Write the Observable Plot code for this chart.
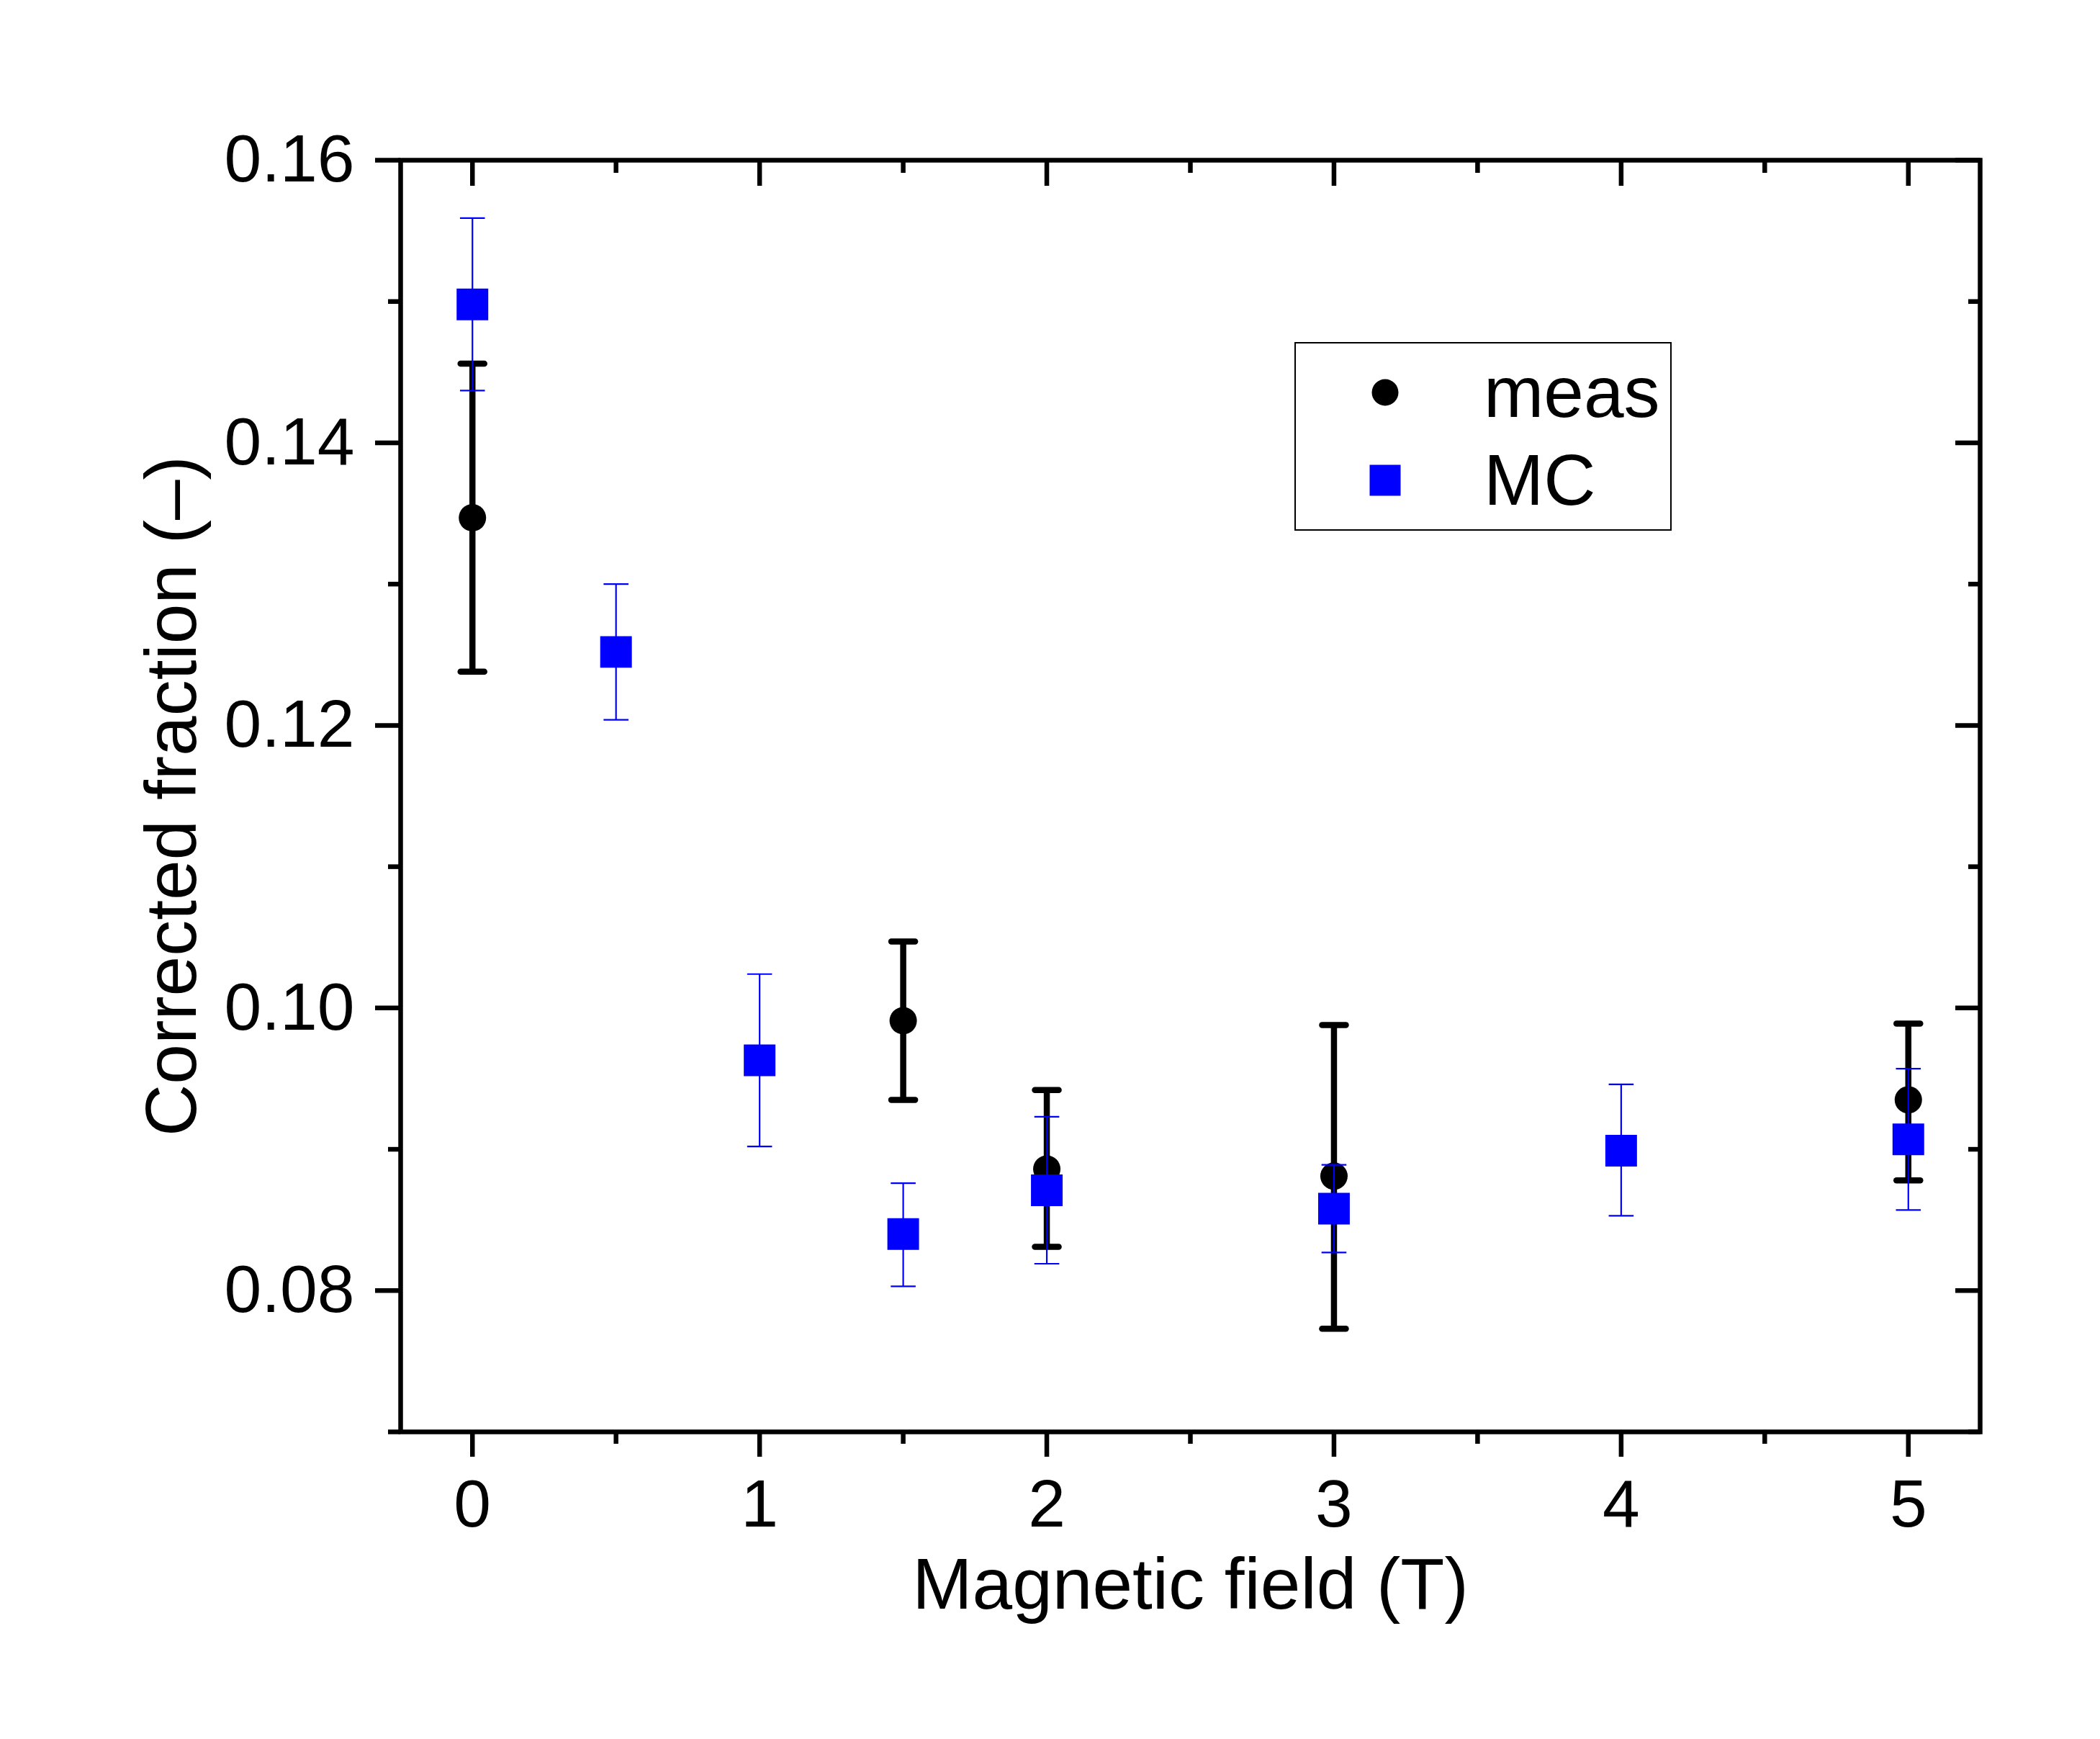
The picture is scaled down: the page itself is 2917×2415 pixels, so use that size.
<!DOCTYPE html>
<html>
<head>
<meta charset="utf-8">
<script src="https://cdn.jsdelivr.net/npm/d3@7"></script>
<script src="https://cdn.jsdelivr.net/npm/@observablehq/plot@0.6"></script>
<style>
  html, body { margin: 0; padding: 0; background: #ffffff; }
  #chart { position: relative; width: 2917px; height: 2415px; }
  #chart svg { display: block; }
  #legend { position: absolute; left: 0; top: 0; pointer-events: none; }
</style>
</head>
<body>
<div id="chart"></div>
<script>
// ---------- data ----------
const measX  = [0, 1.5, 2, 3, 5];
const measY  = [0.1347, 0.0991, 0.0886, 0.0881, 0.0935];
const measLo = [0.1238, 0.0935, 0.0831, 0.0773, 0.0878];
const measHi = [0.1456, 0.1047, 0.0942, 0.0988, 0.0989];

const mcX  = [0, 0.5, 1, 1.5, 2, 3, 4, 5];
const mcY  = [0.1498, 0.1252, 0.0963, 0.0840, 0.0871, 0.0858, 0.0899, 0.0907];
const mcLo = [0.1437, 0.1204, 0.0902, 0.0803, 0.0819, 0.0827, 0.0853, 0.0857];
const mcHi = [0.1559, 0.1300, 0.1024, 0.0876, 0.0923, 0.0889, 0.0946, 0.0957];

const xMajorTicks = [0, 1, 2, 3, 4, 5];
const xMinorTicks = [0.5, 1.5, 2.5, 3.5, 4.5];
const yMajorTicks = [0.08, 0.10, 0.12, 0.14, 0.16];
const yMinorTicks = [0.07, 0.09, 0.11, 0.13, 0.15];

const xTitle = "Magnetic field (T)";
const yTitle = "Corrected fraction (–)";
const legendLabels  = ["meas", "MC"];
const legendSymbols = ["circle", "square"];
const legendColors  = ["#000000", "#0000ff"];

// ---------- tables ----------
const meas = measX.map((x, i) => ({x, y: measY[i], lo: measLo[i], hi: measHi[i]}));
const mc   = mcX.map((x, i) => ({x, y: mcY[i], lo: mcLo[i], hi: mcHi[i]}));

// horizontal cap symbol for error bars (half-length = r)
const capSymbol = {
  draw(context, size) {
    const r = Math.sqrt(size / Math.PI);
    context.moveTo(-r, 0);
    context.lineTo(r, 0);
  }
};

const W = 2917, H = 2415;
const FONT = "'Liberation Sans', Arial, Helvetica, sans-serif";
const TICK_W = 6.5, MAJOR = 35, MINOR = 17;
const noText = () => "";

const plot = Plot.plot({
  width: W,
  height: H,
  marginLeft: 556,
  marginRight: 167,
  marginTop: 222,
  marginBottom: 427,
  x: {domain: [-0.25, 5.25], label: null},
  y: {domain: [0.07, 0.16], label: null},
  style: {fontFamily: FONT, background: "#ffffff", color: "#000000", overflow: "visible"},
  marks: [
    // bottom axis (outward)
    Plot.axisX({anchor: "bottom", ticks: xMajorTicks, tickSize: MAJOR, tickPadding: 30,
      tickFormat: d => String(d), fontSize: 93, strokeWidth: TICK_W, label: null}),
    Plot.axisX({anchor: "bottom", ticks: xMinorTicks, tickSize: MINOR,
      tickFormat: noText, strokeWidth: TICK_W, label: null}),
    // top axis (inward)
    Plot.axisX({anchor: "top", ticks: xMajorTicks, tickSize: MAJOR, dy: MAJOR,
      tickFormat: noText, strokeWidth: TICK_W, label: null}),
    Plot.axisX({anchor: "top", ticks: xMinorTicks, tickSize: MINOR, dy: MINOR,
      tickFormat: noText, strokeWidth: TICK_W, label: null}),
    // left axis (outward)
    Plot.axisY({anchor: "left", ticks: yMajorTicks, tickSize: MAJOR, tickPadding: 29,
      tickFormat: d3.format(".2f"), fontSize: 93, strokeWidth: TICK_W, label: null}),
    Plot.axisY({anchor: "left", ticks: yMinorTicks, tickSize: MINOR,
      tickFormat: noText, strokeWidth: TICK_W, label: null}),
    // right axis (inward)
    Plot.axisY({anchor: "right", ticks: yMajorTicks, tickSize: MAJOR, dx: -MAJOR,
      tickFormat: noText, strokeWidth: TICK_W, label: null}),
    Plot.axisY({anchor: "right", ticks: yMinorTicks, tickSize: MINOR, dx: -MINOR,
      tickFormat: noText, strokeWidth: TICK_W, label: null}),

    // meas series (black)
    Plot.ruleX(meas, {x: "x", y1: "lo", y2: "hi", stroke: "#000000", strokeWidth: 8.5}),
    Plot.dot(meas, {x: "x", y: "hi", symbol: capSymbol, r: 16.5, fill: "none",
      stroke: "#000000", strokeWidth: 8.5, strokeLinecap: "round"}),
    Plot.dot(meas, {x: "x", y: "lo", symbol: capSymbol, r: 16.5, fill: "none",
      stroke: "#000000", strokeWidth: 8.5, strokeLinecap: "round"}),
    Plot.dot(meas, {x: "x", y: "y", symbol: "circle", r: 19, fill: "#000000", stroke: "none"}),

    // MC series (blue)
    Plot.ruleX(mc, {x: "x", y1: "lo", y2: "hi", stroke: "#0000ff", strokeWidth: 2.2}),
    Plot.dot(mc, {x: "x", y: "hi", symbol: capSymbol, r: 17.3, fill: "none",
      stroke: "#0000ff", strokeWidth: 2.2}),
    Plot.dot(mc, {x: "x", y: "lo", symbol: capSymbol, r: 17.3, fill: "none",
      stroke: "#0000ff", strokeWidth: 2.2}),
    Plot.dot(mc, {x: "x", y: "y", symbol: "square", r: 24.8, fill: "#0000ff", stroke: "none"}),

    // axis titles
    Plot.text([xTitle], {frameAnchor: "bottom", text: d => d, dy: 213, fontSize: 100,
      lineAnchor: "middle", textAnchor: "middle", fill: "#000000"}),
    Plot.text([yTitle], {frameAnchor: "left", text: d => d, dx: -317, rotate: -90, fontSize: 100,
      lineAnchor: "middle", textAnchor: "middle", fill: "#000000"}),

    // frame
    Plot.frame({stroke: "#000000", strokeWidth: 6.5})
  ]
});

const chart = document.getElementById("chart");
chart.appendChild(plot);

// ---------- legend (overlay) ----------
const box = {x: 1799, y: 476, w: 522, h: 260};
const rowY = [69, 191];          // symbol centres relative to the box
const legend = d3.select(chart).append("svg")
  .attr("id", "legend")
  .attr("width", W).attr("height", H)
  .style("font-family", FONT);

legend.append("rect")
  .attr("x", box.x).attr("y", box.y)
  .attr("width", box.w).attr("height", box.h)
  .attr("fill", "#ffffff").attr("stroke", "#000000").attr("stroke-width", 2);

legendLabels.forEach((label, i) => {
  const cx = box.x + 125, cy = box.y + rowY[i];
  if (legendSymbols[i] === "circle") {
    legend.append("circle").attr("cx", cx).attr("cy", cy).attr("r", 18.5)
      .attr("fill", legendColors[i]);
  } else {
    legend.append("rect").attr("x", cx - 21.5).attr("y", cy - 21.5)
      .attr("width", 43).attr("height", 43).attr("fill", legendColors[i]);
  }
  legend.append("text")
    .attr("x", box.x + 262).attr("y", cy + 34)
    .attr("font-size", 100).attr("fill", "#000000")
    .text(label);
});
</script>
</body>
</html>
